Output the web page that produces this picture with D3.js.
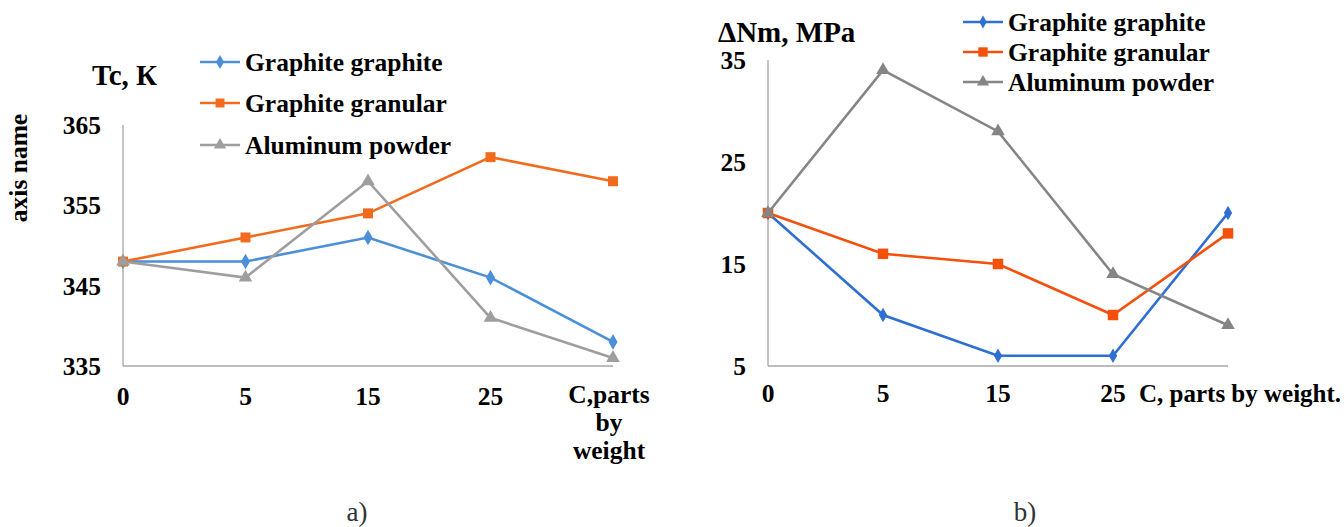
<!DOCTYPE html>
<html><head><meta charset="utf-8">
<script src="https://cdn.jsdelivr.net/npm/d3@7"></script>
</head><body style="margin:0;background:#fff">
<svg id="c" width="1344" height="527" style="display:block"></svg>
<script>
const categories = ["0","5","15","25","C"];
const seriesNames = ["Graphite graphite","Graphite granular","Aluminum powder"];
const aGraphite = [348,348,351,346,338];
const aGranular = [348,351,354,361,358];
const aAluminum = [348,346,358,341,336];
const bGraphite = [20,10,6,6,20];
const bGranular = [20,16,15,10,18];
const bAluminum = [20,34,28,14,9];
const aTicks = [335,345,355,365];
const bTicks = [5,15,25,35];

const svg = d3.select("#c");
const FONT = '"Liberation Serif", "Times New Roman", serif';
const FS = 25.5;

function txt(sel, bold){
  return sel.append("text").style("font-family",FONT).style("font-weight",bold?"bold":"normal");
}
function symbolFor(i){ return [d3.symbolDiamond, d3.symbolSquare, d3.symbolTriangle][i]; }

function drawChart(cfg){
  const x = d3.scalePoint().domain(categories).range([cfg.x0, cfg.x1]);
  const y = d3.scaleLinear().domain([cfg.ticks[0], cfg.ticks[cfg.ticks.length-1]]).range([cfg.y0, cfg.y1]);
  const g = svg.append("g");
  g.append("line").attr("x1",cfg.x0).attr("x2",cfg.x0).attr("y1",cfg.y0).attr("y2",cfg.y1)
    .attr("stroke","#a6a6a6").attr("stroke-width",1.3);
  g.append("line").attr("x1",cfg.x0).attr("x2",cfg.x1).attr("y1",cfg.y0).attr("y2",cfg.y0)
    .attr("stroke","#a6a6a6").attr("stroke-width",1.3);
  cfg.ticks.forEach(d=>{
    txt(g,true).attr("x",cfg.x0-22).attr("y",y(d)).attr("dy","0.35em").attr("text-anchor","end")
      .style("font-size",FS+"px").text(d);
  });
  categories.slice(0,4).forEach(d=>{
    txt(g,true).attr("x",x(d)).attr("y",cfg.tickY).attr("text-anchor","middle")
      .style("font-size",FS+"px").text(d);
  });
  cfg.series.forEach((s,i)=>{
    const line = d3.line().x((d,j)=>x(categories[j])).y(d=>y(d));
    g.append("path").datum(s).attr("d",line).attr("fill","none")
      .attr("stroke",cfg.colors[i]).attr("stroke-width",2.6);
    g.selectAll(".m"+i).data(s).join("path")
      .attr("transform",(d,j)=>`translate(${x(categories[j])},${y(d)})`)
      .attr("d",d3.symbol().type(symbolFor(i)).size(cfg.msize[i]))
      .attr("fill",cfg.colors[i]);
  });
  seriesNames.forEach((n,i)=>{
    const ly = cfg.legY[i];
    g.append("line").attr("x1",cfg.legX).attr("x2",cfg.legX+40).attr("y1",ly).attr("y2",ly)
      .attr("stroke",cfg.colors[i]).attr("stroke-width",2.6);
    g.append("path").attr("transform",`translate(${cfg.legX+20},${ly})`)
      .attr("d",d3.symbol().type(symbolFor(i)).size(cfg.msize[i]*0.8)).attr("fill",cfg.colors[i]);
    txt(g,true).attr("x",cfg.legX+45).attr("y",ly).attr("dy","0.35em")
      .style("font-size",FS+"px").text(n);
  });
  return {g,x,y};
}

const A = drawChart({x0:123,x1:613,y0:366,y1:125,ticks:aTicks,tickY:405,
  series:[aGraphite,aGranular,aAluminum],
  colors:["#4a8fd8","#f26b1d","#9e9e9e"], msize:[70,100,80],
  legX:200, legY:[62,103,145]});
txt(A.g,true).attr("x",92).attr("y",85).style("font-size","29px").text("Tc, К");
txt(A.g,true).attr("transform","translate(27,168) rotate(-90)").attr("text-anchor","middle")
  .style("font-size",FS+"px").text("axis name");
["C,parts","by","weight"].forEach((t,i)=>{
  txt(A.g,true).attr("x",609).attr("y",403+i*28).attr("text-anchor","middle")
    .style("font-size",FS+"px").text(t);
});

const B = drawChart({x0:768,x1:1228,y0:366,y1:60,ticks:bTicks,tickY:402,
  series:[bGraphite,bGranular,bAluminum],
  colors:["#2e6fd2","#f4500c","#858585"], msize:[60,110,80],
  legX:963, legY:[22,52,82]});
txt(B.g,true).attr("x",718).attr("y",42).style("font-size","29px").text("ΔNm, MPa");
txt(B.g,true).attr("x",1139).attr("y",402).style("font-size","25px").text("C, parts by weight.");

txt(svg,false).attr("x",357).attr("y",521).attr("text-anchor","middle")
  .style("font-size","27px").attr("fill","#333").text("a)");
txt(svg,false).attr("x",1025).attr("y",521).attr("text-anchor","middle")
  .style("font-size","27px").attr("fill","#333").text("b)");
</script>
</body></html>
